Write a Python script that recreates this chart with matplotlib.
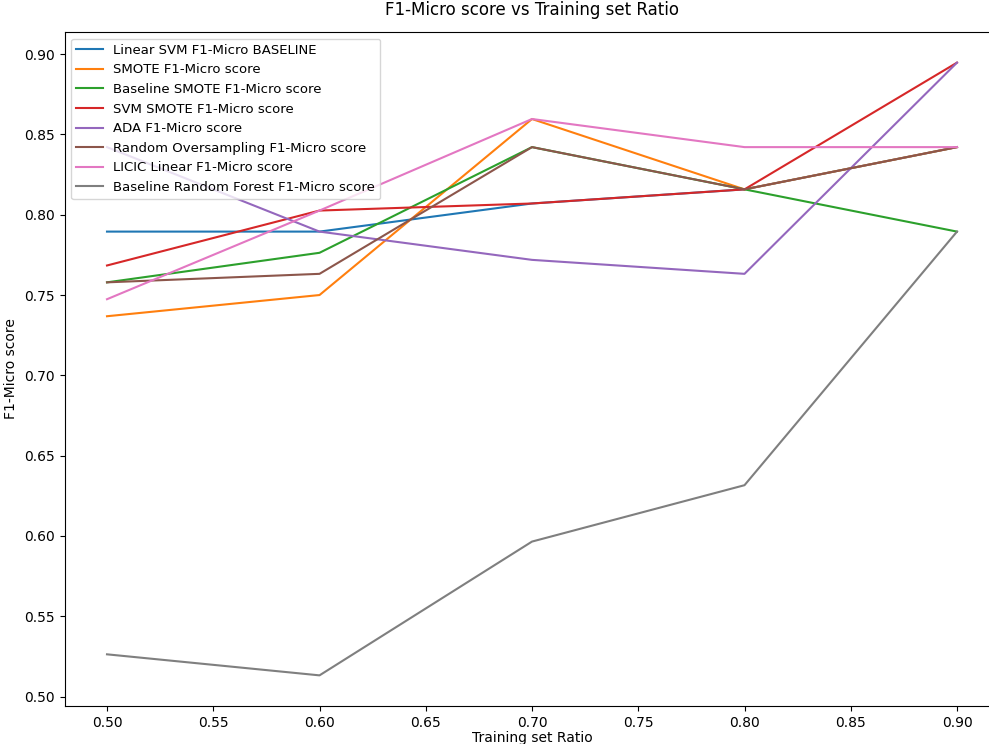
import matplotlib
matplotlib.use('Agg')
import matplotlib.pyplot as plt

ratios = [0.5, 0.6, 0.7, 0.8, 0.9]

svm_baseline = [0.7895, 0.7895, 0.8070, 0.8158, 0.8421]
smote = [0.7368, 0.7500, 0.8596, 0.8158, 0.8421]
baseline_smote = [0.7579, 0.7763, 0.8421, 0.8158, 0.7895]
svm_smote = [0.7684, 0.8026, 0.8070, 0.8158, 0.8947]
ada = [0.8421, 0.7895, 0.7719, 0.7632, 0.8947]
random_over = [0.7579, 0.7632, 0.8421, 0.8158, 0.8421]
licic = [0.7474, 0.8026, 0.8596, 0.8421, 0.8421]
rf_baseline = [0.5263, 0.5132, 0.5965, 0.6316, 0.7895]

labels = ['Linear SVM F1-Micro BASELINE',
          'SMOTE F1-Micro score',
          'Baseline SMOTE F1-Micro score',
          'SVM SMOTE F1-Micro score',
          'ADA F1-Micro score',
          'Random Oversampling F1-Micro score',
          'LICIC Linear F1-Micro score',
          'Baseline Random Forest F1-Micro score']

series = [svm_baseline, smote, baseline_smote, svm_smote,
          ada, random_over, licic, rf_baseline]

fig = plt.figure(figsize=(9.89, 7.44), dpi=100)
# axes runs slightly past the right edge, like the cropped original
ax = fig.add_axes([64.5 / 989, 38 / 744, 935 / 989, 674 / 744])

for ys, lab in zip(series, labels):
    ax.plot(ratios, ys, label=lab, linewidth=1.5)

ax.set_title('F1-Micro score vs Training set Ratio', pad=12)
ax.set_xlabel('Training set Ratio', labelpad=1)
ax.set_ylabel('F1-Micro score')
ax.set_xticks([0.5, 0.55, 0.6, 0.65, 0.7, 0.75, 0.8, 0.85, 0.9])
ax.set_xticklabels(['%.2f' % t for t in ax.get_xticks()])
ax.set_yticks([0.5, 0.55, 0.6, 0.65, 0.7, 0.75, 0.8, 0.85, 0.9])
ax.set_yticklabels(['%.2f' % t for t in ax.get_yticks()])
ax.legend(loc='upper left', fontsize=9.5)

fig.savefig('out.png', dpi=100)
